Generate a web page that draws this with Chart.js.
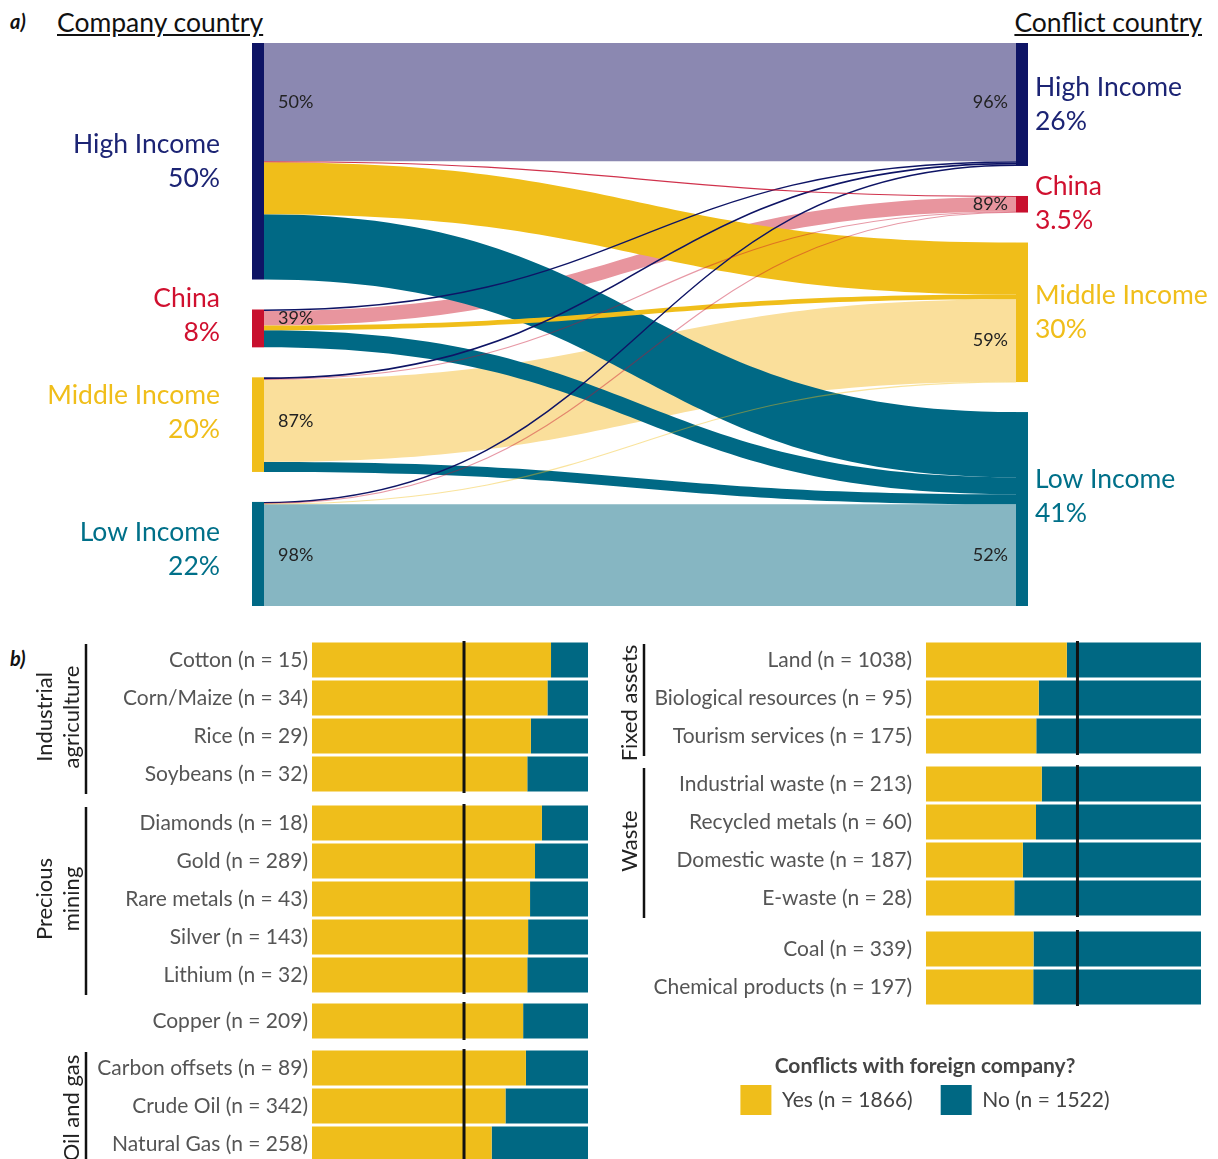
<!DOCTYPE html>
<html><head><meta charset="utf-8">
<title>Conflicts: company country vs conflict country</title>
<script src="https://cdn.jsdelivr.net/npm/chart.js@4.4.1/dist/chart.umd.min.js"></script>
<style>
html,body{margin:0;padding:0;background:#fff;}
#page{position:relative;width:1218px;height:1159px;overflow:hidden;background:#fff;font-family:Lato,"Open Sans",sans-serif;}
#page canvas{position:absolute;}
.txt{position:absolute;white-space:nowrap;color:#111;line-height:1;}
</style></head>
<body><div id="page">
<div class="txt" style="left:10px;top:9px;font:italic 700 20px Lato">a)</div>
<div class="txt" style="left:57px;top:6px;font:400 26.5px Lato;text-decoration:underline;">Company country</div>
<div class="txt" style="right:16px;top:6px;font:400 26.5px Lato;text-decoration:underline;">Conflict country</div>
<div class="txt" style="left:10px;top:646px;font:italic 700 20px Lato">b)</div>
</div>
<script>
// ================= DATA =================
// Panel a) share of all conflicts (%) by company country (rows) -> conflict country (columns)
const nodeNames = ['High Income', 'China', 'Middle Income', 'Low Income'];
const flowsFromHigh   = [25.0, 0.2, 11.0, 13.8];
const flowsFromChina  = [0.3, 3.1, 1.0, 3.6];
const flowsFromMiddle = [0.4, 0.1, 17.4, 2.1];
const flowsFromLow    = [0.3, 0.1, 0.1, 21.5];

// Panel b) share (%) of conflicts with a foreign company, per commodity
const agriLabels   = ['Cotton (n = 15)', 'Corn/Maize (n = 34)', 'Rice (n = 29)', 'Soybeans (n = 32)'];
const agriYes      = [86.6, 85.3, 79.3, 78.0];
const miningLabels = ['Diamonds (n = 18)', 'Gold (n = 289)', 'Rare metals (n = 43)', 'Silver (n = 143)', 'Lithium (n = 32)'];
const miningYes    = [83.3, 80.8, 79.0, 78.3, 78.0];
const copperLabels = ['Copper (n = 209)'];
const copperYes    = [76.5];
const oilLabels    = ['Carbon offsets (n = 89)', 'Crude Oil (n = 342)', 'Natural Gas (n = 258)'];
const oilYes       = [77.5, 70.1, 65.1];
const fixedLabels  = ['Land (n = 1038)', 'Biological resources (n = 95)', 'Tourism services (n = 175)'];
const fixedYes     = [51.2, 41.0, 40.1];
const wasteLabels  = ['Industrial waste (n = 213)', 'Recycled metals (n = 60)', 'Domestic waste (n = 187)', 'E-waste (n = 28)'];
const wasteYes     = [42.1, 40.0, 35.2, 32.1];
const otherLabels  = ['Coal (n = 339)', 'Chemical products (n = 197)'];
const otherYes     = [39.1, 39.0];
const seriesNames  = ['Yes', 'No'];
const seriesTotals = [1866, 1522];
const legendTitle  = 'Conflicts with foreign company?';

// ================= STYLE =================
const NODE_COLORS  = ['#0e1465', '#c8102e', '#f0be1a', '#006985'];
const SELF_COLORS  = ['#8b88b1', '#e8959e', '#fadf9b', '#86b6c2'];
const LABEL_COLORS = ['#1c2474', '#d0102f', '#f0be1a', '#007089'];
const LEFT_LABEL_DY  = [0, -13, -12, -5];
const RIGHT_LABEL_DY = [0, -1, 0, -13];
const NODE_GAP = 6.34;   // gap between stacked nodes, in % units
const NODE_W = 12;       // node bar width, px
const YES_COLOR = '#efbe1b';
const NO_COLOR  = '#006883';
const FONT = 'Lato';

const page = document.getElementById('page');
function addCanvas(left, top, w, h) {
  const c = document.createElement('canvas');
  c.width = w; c.height = h;
  c.style.left = left + 'px'; c.style.top = top + 'px';
  c.style.width = w + 'px'; c.style.height = h + 'px';
  page.appendChild(c);
  return c;
}

// ================= SANKEY =================
const flowMatrix = [flowsFromHigh, flowsFromChina, flowsFromMiddle, flowsFromLow];
const sum = a => a.reduce((p, q) => p + q, 0);
const outTot = flowMatrix.map(sum);
const inTot = nodeNames.map((_, j) => sum(flowMatrix.map(r => r[j])));
const fmtPct = v => (v >= 10 ? Math.round(v + 1e-9) : +v.toFixed(1)) + '%';

const sankeyPlugin = {
  id: 'sankey',
  afterDraw(chart) {
    const ctx = chart.ctx, xs = chart.scales.x, ys = chart.scales.y;
    const n = nodeNames.length;
    const starts = t => { let acc = 0; return t.map((v, i) => { const s = acc + i * NODE_GAP; acc += v; return s; }); };
    const lS = starts(outTot), rS = starts(inTot);
    const py = v => ys.getPixelForValue(v);
    const xL = xs.getPixelForValue(0), xR = xs.getPixelForValue(1);
    const x0 = xL + NODE_W, x1 = xR - NODE_W, xm = (x0 + x1) / 2;
    const links = [];
    const lo = lS.slice();
    for (let i = 0; i < n; i++) for (let j = 0; j < n; j++) { links.push({ i, j, v: flowMatrix[i][j], a: lo[i] }); lo[i] += flowMatrix[i][j]; }
    const ro = rS.slice();
    for (let j = 0; j < n; j++) for (let i = 0; i < n; i++) { const L = links[i * n + j]; L.b = ro[j]; ro[j] += L.v; }
    const order = links.filter(L => L.i === L.j).concat(links.filter(L => L.i !== L.j).sort((p, q) => q.v - p.v));
    ctx.save();
    for (const L of order) {
      if (L.v <= 0) continue;
      const a0 = py(L.a), a1 = py(L.a + L.v), b0 = py(L.b), b1 = py(L.b + L.v);
      const col = L.i === L.j ? SELF_COLORS[L.j] : NODE_COLORS[L.j];
      const h = a1 - a0;
      if (h < 1.6) {
        const am = (a0 + a1) / 2, bm = (b0 + b1) / 2;
        ctx.globalAlpha = Math.min(1, h / 1.1);
        ctx.strokeStyle = col; ctx.lineWidth = Math.max(h, 1.1);
        ctx.beginPath(); ctx.moveTo(x0, am); ctx.bezierCurveTo(xm, am, xm, bm, x1, bm); ctx.stroke();
        ctx.globalAlpha = 1;
      } else {
        ctx.fillStyle = col;
        ctx.beginPath();
        ctx.moveTo(x0, a0);
        ctx.bezierCurveTo(xm, a0, xm, b0, x1, b0);
        ctx.lineTo(x1, b1);
        ctx.bezierCurveTo(xm, b1, xm, a1, x0, a1);
        ctx.closePath(); ctx.fill();
      }
    }
    // nodes
    for (let i = 0; i < n; i++) {
      ctx.fillStyle = NODE_COLORS[i];
      ctx.fillRect(xL, py(lS[i]), NODE_W, py(lS[i] + outTot[i]) - py(lS[i]));
      ctx.fillRect(xR - NODE_W, py(rS[i]), NODE_W, py(rS[i] + inTot[i]) - py(rS[i]));
    }
    // self-flow share labels
    ctx.font = '400 18px ' + FONT; ctx.fillStyle = '#222'; ctx.textBaseline = 'middle';
    for (const L of links.filter(l => l.i === l.j)) {
      ctx.textAlign = 'left';
      ctx.fillText(Math.round(L.v / outTot[L.i] * 100) + '%', x0 + 14, (py(L.a) + py(L.a + L.v)) / 2);
      ctx.textAlign = 'right';
      ctx.fillText(Math.round(L.v / inTot[L.j] * 100) + '%', x1 - 8, (py(L.b) + py(L.b + L.v)) / 2);
    }
    // node labels
    ctx.font = '400 26.5px ' + FONT;
    for (let i = 0; i < n; i++) {
      ctx.fillStyle = LABEL_COLORS[i];
      let cy = (py(lS[i]) + py(lS[i] + outTot[i])) / 2 + LEFT_LABEL_DY[i];
      ctx.textAlign = 'right';
      ctx.fillText(nodeNames[i], xL - 32, cy - 17);
      ctx.fillText(fmtPct(outTot[i]), xL - 32, cy + 17);
      cy = (py(rS[i]) + py(rS[i] + inTot[i])) / 2 + RIGHT_LABEL_DY[i];
      ctx.textAlign = 'left';
      ctx.fillText(nodeNames[i], xR + 7, cy - 17);
      ctx.fillText(fmtPct(inTot[i]), xR + 7, cy + 17);
    }
    ctx.restore();
  }
};

function drawSankey() {
  const c = addCanvas(0, 0, 1218, 620);
  new Chart(c, {
    type: 'scatter',
    data: { datasets: [{ data: [] }] },
    options: {
      responsive: false, animation: false, events: [],
      layout: { padding: { left: 252, right: 190, top: 43, bottom: 14 } },
      plugins: { legend: { display: false }, tooltip: { enabled: false } },
      scales: {
        x: { type: 'linear', min: 0, max: 1, display: false },
        y: { type: 'linear', min: 0, max: sum(outTot) + (nodeNames.length - 1) * NODE_GAP, reverse: true, display: false }
      }
    },
    plugins: [sankeyPlugin]
  });
}

// ================= BAR PANELS =================
const meanShare = seriesTotals[0] / sum(seriesTotals) * 100;
const ROW_H = 38, PAD_V = 10, LEGEND_H = 119;
const SIDES = {
  left:  { canvasLeft: 0,   width: 600, axisWidth: 312, padL: 0, padR: 12, tickPad: 4,  bracketX: 86 },
  right: { canvasLeft: 612, width: 600, axisWidth: 314, padL: 0, padR: 11, tickPad: 14, bracketX: 32 }
};

function barChart(labels, yes, side, areaTop, title, legend, titleDy) {
  const S = Object.assign({}, SIDES[side]);
  if (legend) { S.padL = 37; S.axisWidth = 314 - 37; }
  const h = PAD_V + labels.length * ROW_H + (legend ? LEGEND_H : PAD_V);
  const c = addCanvas(S.canvasLeft, areaTop - PAD_V, S.width, h);
  const decor = {
    id: 'decor',
    afterDatasetsDraw(chart) {
      const ctx = chart.ctx, ca = chart.chartArea;
      const px = chart.scales.x.getPixelForValue(meanShare);
      ctx.save();
      ctx.strokeStyle = '#111'; ctx.lineWidth = 3;
      ctx.beginPath(); ctx.moveTo(px, ca.top); ctx.lineTo(px, ca.bottom); ctx.stroke();
      if (title) {
        ctx.lineWidth = 2.5;
        ctx.beginPath(); ctx.moveTo(S.bracketX, ca.top + 3); ctx.lineTo(S.bracketX, ca.bottom + 1); ctx.stroke();
        ctx.fillStyle = '#222'; ctx.font = '400 22px ' + FONT;
        ctx.textAlign = 'center'; ctx.textBaseline = 'middle';
        const cy = (ca.top + ca.bottom) / 2 + (titleDy || 0);
        title.forEach((line, k) => {
          const lx = S.bracketX - 14 - (title.length - 1 - k) * 27;
          ctx.save(); ctx.translate(lx, cy); ctx.rotate(-Math.PI / 2); ctx.fillText(line, 0, 0); ctx.restore();
        });
      }
      ctx.restore();
    }
  };
  new Chart(c, {
    type: 'bar',
    data: {
      labels: labels,
      datasets: [
        { label: seriesNames[0] + ' (n = ' + seriesTotals[0] + ')', data: yes, backgroundColor: YES_COLOR, borderWidth: 0, barPercentage: 0.92, categoryPercentage: 1 },
        { label: seriesNames[1] + ' (n = ' + seriesTotals[1] + ')', data: yes.map(v => +(100 - v).toFixed(1)), backgroundColor: NO_COLOR, borderWidth: 0, barPercentage: 0.92, categoryPercentage: 1 }
      ]
    },
    options: {
      indexAxis: 'y', responsive: false, animation: false, events: [],
      layout: { padding: { top: PAD_V, bottom: legend ? 0 : PAD_V, left: S.padL, right: S.padR } },
      plugins: {
        tooltip: { enabled: false },
        legend: legend ? {
          display: true, position: 'bottom', maxHeight: LEGEND_H + 20,
          title: { display: true, text: legendTitle, color: '#444', font: { family: FONT, size: 21, weight: 'bold' }, padding: { top: 49.5, bottom: -23.7 } },
          labels: { boxWidth: 31, boxHeight: 30, padding: 28, color: '#444', font: { family: FONT, size: 21 } }
        } : { display: false }
      },
      scales: {
        x: { stacked: true, min: 0, max: 100, display: false },
        y: {
          stacked: true,
          grid: { display: false, drawTicks: false },
          border: { display: false },
          ticks: { autoSkip: false, color: '#555', padding: S.tickPad, font: { family: FONT, size: 21 } },
          afterFit(s) { s.width = S.axisWidth; s.paddingTop = 0; s.paddingBottom = 0; }
        }
      }
    },
    plugins: [decor]
  });
}

function drawAll() {
  drawSankey();
  barChart(agriLabels, agriYes, 'left', 641, ['Industrial', 'agriculture']);
  barChart(miningLabels, miningYes, 'left', 804, ['Precious', 'mining']);
  barChart(copperLabels, copperYes, 'left', 1002, null);
  barChart(oilLabels, oilYes, 'left', 1049, ['Oil and gas'], false, 2);
  barChart(fixedLabels, fixedYes, 'right', 641, ['Fixed assets'], false, 5);
  barChart(wasteLabels, wasteYes, 'right', 765, ['Waste']);
  barChart(otherLabels, otherYes, 'right', 930, null, true);
}

const fontsReady = document.fonts && document.fonts.load
  ? Promise.all(['400 20px Lato', '700 20px Lato', 'italic 700 20px Lato'].map(f => document.fonts.load(f))).catch(() => {})
  : Promise.resolve();
fontsReady.then(drawAll, drawAll);
</script></body></html>
